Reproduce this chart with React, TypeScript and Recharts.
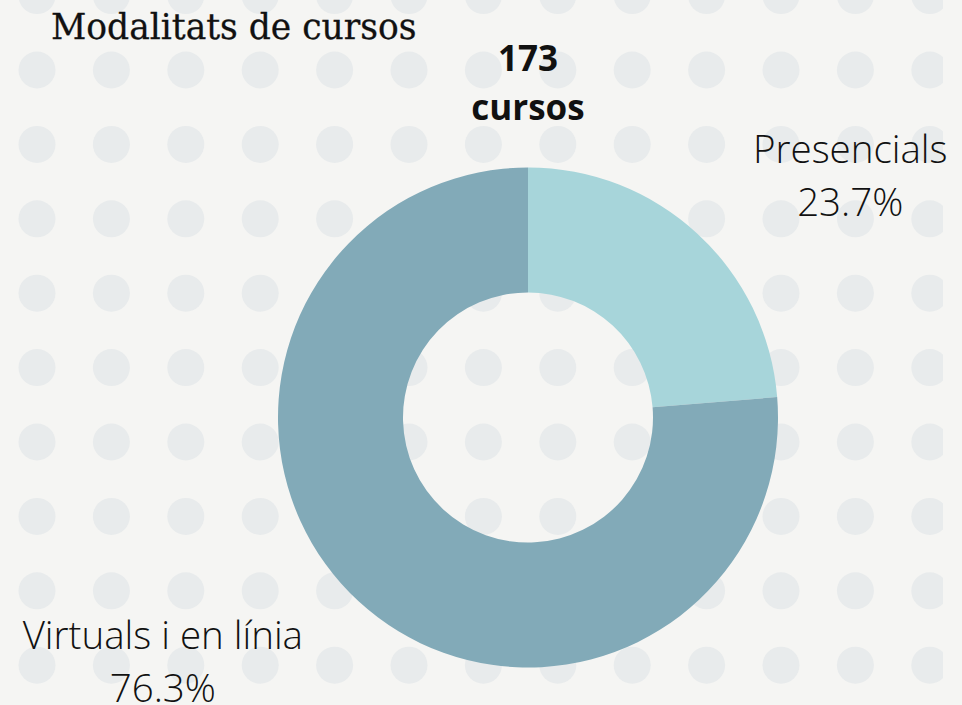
import React from "react";
import { PieChart, Pie, Cell } from "recharts";

const categories = ["Presencials", "Virtuals i en línia"];
const courses = [41, 132];
const colors = ["#a7d5da", "#82aab8"];
const title = "Modalitats de cursos";
const unit = "cursos";

const W = 962;
const H = 705;
const CX = 528;
const CY = 417.5;
const R_OUT = 250;
const R_IN = 125;

const LABEL_FONT = "300 38.5px 'Open Sans'";

const data = categories.map((name, i) => ({ name, value: courses[i] }));
const total = courses.reduce((a, b) => a + b, 0);

// dotted backdrop
const DOT_STEP = 74.4;
const DOT_X0 = 37;
const DOT_Y0 = -4.4;
const DOT_COLS = 13;
const DOT_ROWS = 10;

let ctx: CanvasRenderingContext2D | null = null;
function textWidth(s: string) {
  if (!ctx) ctx = document.createElement("canvas").getContext("2d");
  if (!ctx) return s.length * 16;
  ctx.font = LABEL_FONT;
  return ctx.measureText(s).width;
}

function SliceLabel(props: any) {
  const { cx, cy, midAngle, outerRadius, percent, name } = props;
  const pct = `${(percent * 100).toFixed(1)}%`;
  const right = Math.cos((-midAngle * Math.PI) / 180) > 0;
  const w = Math.max(textWidth(name), textWidth(pct));
  const x = right ? cx + 0.9 * outerRadius + w / 2 : cx - 0.9 * outerRadius - w / 2;
  const y = right ? cy - 1.018 * outerRadius : cy + 1.138 * outerRadius - 53;
  return (
    <text
      x={x}
      y={y}
      textAnchor="middle"
      fill="#111"
      style={{ font: LABEL_FONT }}
    >
      <tspan x={x} dy={0}>{name}</tspan>
      <tspan x={x} dy={53}>{pct}</tspan>
    </text>
  );
}

export default function App() {
  const dots = [];
  for (let j = 0; j < DOT_ROWS; j++) {
    for (let i = 0; i < DOT_COLS; i++) {
      dots.push(
        <circle key={`${i}-${j}`} cx={DOT_X0 + i * DOT_STEP} cy={DOT_Y0 + j * DOT_STEP} r={18.5} fill="#e8ebec" />
      );
    }
  }
  return (
    <div style={{ position: "relative", width: W, height: H, background: "#f5f5f3", overflow: "hidden" }}>
      <style>{`body{margin:0}`}</style>
      <svg width={W} height={H} style={{ position: "absolute", left: 0, top: 0 }}>
        <defs>
          <clipPath id="dotClip">
            <rect x={0} y={0} width={943} height={H} />
          </clipPath>
        </defs>
        <g clipPath="url(#dotClip)">{dots}</g>
      </svg>
      <div style={{ position: "absolute", left: 0, top: 0 }}>
        <PieChart width={W} height={H} margin={{ top: 0, right: 0, bottom: 0, left: 0 }}>
          <Pie
            data={data}
            dataKey="value"
            nameKey="name"
            cx={CX}
            cy={CY}
            innerRadius={R_IN}
            outerRadius={R_OUT}
            startAngle={90}
            endAngle={-270}
            stroke="none"
            label={SliceLabel}
            labelLine={false}
            isAnimationActive={false}
          >
            {data.map((d, i) => (
              <Cell key={d.name} fill={colors[i]} />
            ))}
          </Pie>
        </PieChart>
      </div>
      <div
        style={{
          position: "absolute",
          left: 51,
          top: 5,
          fontFamily: "'DejaVu Serif', serif",
          fontSize: 34.5,
          lineHeight: "44px",
          color: "#111",
          WebkitTextStroke: "0.3px #111",
        }}
      >
        {title}
      </div>
      <div
        style={{
          position: "absolute",
          left: CX - 100,
          width: 200,
          top: 33,
          textAlign: "center",
          fontFamily: "'Open Sans', sans-serif",
          fontWeight: 700,
          fontSize: 35,
          lineHeight: "49px",
          color: "#111",
        }}
      >
        {total}
        <br />
        {unit}
      </div>
    </div>
  );
}
